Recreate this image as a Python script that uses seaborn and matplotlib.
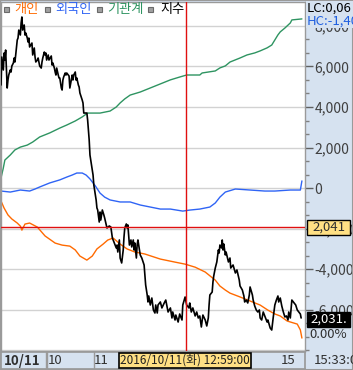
import matplotlib
matplotlib.use("Agg")
import matplotlib.pyplot as plt
import matplotlib.patches as mpatches
import numpy as np
import pandas as pd
import seaborn as sns

# 시간축: 09:00 이후 경과 분
# 기관계 (억원)
inst_min = [0, 3, 5, 12, 18, 25, 34, 41, 50, 63, 76, 85, 96, 105, 112, 128, 141, 149, 154, 160,
            167, 180, 193, 206, 219, 231, 240, 257, 260, 277, 283, 290, 296, 309, 318, 328, 335, 344, 350, 354,
            358, 361, 367, 374, 376, 389]
inst_val = [490, 990, 1380, 1630, 1880, 2020, 2120, 2270, 2520, 2720, 2960, 3110, 3310, 3510, 3700, 3700, 3800, 4000, 4200, 4400,
            4590, 4740, 4940, 5140, 5340, 5480, 5580, 5580, 5680, 5780, 5930, 6030, 6220, 6420, 6570, 6670, 6770, 6920, 7060, 7310,
            7560, 7710, 7900, 8150, 8300, 8350]

# 외국인
frgn_min = [0, 12, 25, 37, 44, 50, 63, 76, 85, 92, 98, 105, 110, 115, 122, 128, 134, 141, 154, 167,
            180, 193, 206, 219, 235, 244, 257, 270, 277, 283, 290, 303, 322, 341, 354, 374, 387, 389]
frgn_val = [-150, -200, -100, -150, -50, 50, 250, 400, 540, 640, 740, 740, 640, 450, 100, -250, -450, -590, -690, -690,
            -840, -940, -1040, -1040, -1140, -1090, -1040, -940, -740, -450, -200, -50, -100, -150, -150, -100, -100, 350]

# 개인
indv_min = [0, 4, 9, 14, 21, 25, 27, 31, 37, 47, 57, 70, 79, 89, 96, 102, 111, 118, 124, 132,
            138, 145, 154, 163, 173, 186, 206, 225, 238, 251, 264, 277, 283, 290, 296, 309, 322, 335, 345, 354,
            361, 370, 383, 387, 389]
indv_val = [-640, -990, -1330, -1530, -1730, -1880, -2080, -1780, -1730, -1930, -2370, -2720, -2820, -2870, -3060, -3360, -3560, -3360, -3010, -2770,
            -2570, -2470, -2770, -3010, -3160, -3260, -3510, -3660, -3760, -3910, -4150, -4550, -4840, -5040, -5190, -5380, -5580, -5780, -6030, -6220,
            -6320, -6570, -6720, -7010, -7410]

# 지수
idx_min = [0, 1, 3, 4, 5, 6, 8, 9, 10, 12, 13, 14, 16, 17, 18, 19, 21, 22, 23, 25,
           26, 27, 28, 30, 31, 32, 34, 35, 36, 37, 40, 41, 43, 44, 45, 47, 48, 50, 52, 53,
           54, 56, 57, 58, 59, 61, 62, 65, 66, 67, 69, 70, 71, 72, 74, 75, 76, 78, 79, 80,
           81, 83, 84, 85, 88, 89, 92, 93, 94, 96, 97, 98, 100, 101, 102, 105, 106, 107, 111, 112,
           114, 115, 116, 118, 119, 120, 122, 123, 124, 125, 127, 128, 129, 131, 133, 134, 137, 140, 142, 144,
           146, 149, 150, 151, 153, 154, 156, 158, 159, 160, 162, 163, 164, 166, 168, 169, 171, 172, 173, 175,
           176, 177, 180, 182, 185, 186, 187, 189, 190, 191, 193, 195, 197, 199, 200, 202, 203, 206, 208, 211,
           213, 216, 219, 221, 222, 225, 226, 229, 231, 234, 235, 238, 240, 243, 244, 246, 248, 251, 253, 255,
           257, 259, 261, 264, 266, 268, 269, 270, 273, 274, 275, 277, 279, 281, 282, 283, 285, 286, 287, 288,
           290, 291, 294, 296, 297, 300, 303, 305, 308, 309, 312, 314, 315, 317, 319, 321, 322, 325, 326, 328,
           330, 332, 334, 335, 337, 339, 341, 344, 345, 348, 350, 352, 354, 356, 358, 359, 361, 363, 365, 367,
           369, 371, 372, 374, 376, 379, 381, 383, 387, 388]
idx_val = [2056.44, 2059.48, 2058.07, 2059.91, 2059.15, 2060.24, 2056.11, 2056.98, 2057.52, 2058.07,
           2057.85, 2058.50, 2058.83, 2059.37, 2058.94, 2059.70, 2061.33, 2061.54, 2062.41, 2061.87,
           2063.17, 2063.83, 2062.41, 2062.96, 2061.87, 2062.09, 2061.54, 2061.11, 2061.54, 2060.57,
           2061.00, 2059.70, 2060.46, 2059.48, 2058.94, 2059.15, 2059.37, 2058.50, 2058.28, 2058.94,
           2059.37, 2060.02, 2059.70, 2059.91, 2059.15, 2059.70, 2059.15, 2059.59, 2058.61, 2058.83,
           2058.28, 2057.85, 2057.52, 2058.28, 2057.52, 2057.20, 2057.20, 2056.11, 2055.89, 2056.98,
           2057.31, 2057.74, 2057.52, 2057.74, 2057.41, 2056.11, 2057.52, 2056.98, 2057.52, 2057.85,
           2056.98, 2057.20, 2056.44, 2056.22, 2055.57, 2054.80, 2054.48, 2053.39, 2053.39, 2052.63,
           2050.46, 2048.83, 2048.28, 2047.20, 2046.65, 2045.57, 2044.48, 2043.93, 2043.07, 2042.85,
           2041.54, 2042.63, 2041.76, 2042.85, 2042.30, 2041.98, 2040.89, 2041.11, 2041.00, 2039.80,
           2039.37, 2038.72, 2039.04, 2038.28, 2039.59, 2037.63, 2037.09, 2038.50, 2039.91, 2040.89,
           2041.33, 2040.89, 2041.22, 2039.04, 2039.59, 2038.83, 2039.59, 2038.50, 2039.26, 2037.63,
           2039.04, 2039.59, 2037.96, 2037.63, 2036.87, 2035.78, 2034.70, 2033.61, 2032.85, 2033.50,
           2032.52, 2033.28, 2031.98, 2031.65, 2032.52, 2031.65, 2032.52, 2032.85, 2032.20, 2032.74,
           2033.06, 2031.76, 2032.20, 2031.11, 2031.76, 2030.89, 2031.43, 2030.67, 2031.54, 2030.89,
           2032.52, 2033.39, 2032.52, 2032.20, 2032.74, 2031.76, 2032.20, 2031.33, 2031.76, 2031.11,
           2031.33, 2030.13, 2031.43, 2030.89, 2030.24, 2031.11, 2032.52, 2033.61, 2033.93, 2035.02,
           2035.67, 2036.54, 2037.20, 2038.50, 2038.17, 2039.04, 2038.72, 2039.59, 2038.50, 2039.15,
           2037.96, 2038.28, 2037.20, 2037.63, 2036.54, 2036.87, 2036.00, 2036.33, 2035.24, 2034.59,
           2034.15, 2033.50, 2032.85, 2033.06, 2032.74, 2033.61, 2034.48, 2033.61, 2033.06, 2032.41,
           2031.98, 2031.76, 2031.98, 2031.11, 2030.89, 2031.76, 2031.33, 2030.67, 2030.89, 2030.02,
           2029.80, 2031.22, 2032.52, 2033.06, 2033.50, 2032.85, 2033.28, 2032.41, 2031.76, 2031.22,
           2031.33, 2030.89, 2031.76, 2031.11, 2033.06, 2032.74, 2032.52, 2031.98, 2031.54, 2031.11]

flow_ticks = [-6000, -4000, -2000, 0, 2000, 4000, 6000, 8000]
hour_marks = [60, 120, 180, 240, 300]
hour_labels = ["10", "11", "15"]
cursor_min = 239
cursor_idx = 2041
last_idx = "2,031."

sns.set_theme(style="white")
plt.rcParams["font.family"] = ["Noto Sans CJK KR", "DejaVu Sans"]

W, H = 353, 370
fig = plt.figure(figsize=(W / 100, H / 100), dpi=100)
panel = "#d6e2f0"
fig.patch.set_facecolor(panel)


def fx(x):
    return x / W


def fy(y):
    return 1 - y / H


# 메인 차트
ax = fig.add_axes([1 / W, 19 / H, 304 / W, 349 / H])
ax.set_facecolor("white")
ax.set_xlim(0, 393)
ax.set_ylim(-8049, 9185)
for v in flow_ticks + [-8000]:
    ax.axhline(v, color="#d2d2d2", lw=1.0, zorder=0)

sns.lineplot(x=inst_min, y=inst_val, ax=ax, color="#2e9461", lw=1.0)
sns.lineplot(x=frgn_min, y=frgn_val, ax=ax, color="#2f64f5", lw=1.0)
sns.lineplot(x=indv_min, y=indv_val, ax=ax, color="#ff6a00", lw=1.0)
ax.set_xticks([])
ax.set_xlabel("")
ax.set_ylabel("")
for s in ax.spines.values():
    s.set_color("#9a9a9a")
    s.set_linewidth(1)

ax2 = ax.twinx()
ax2.set_ylim(2027.52, 2065.46)
sns.lineplot(x=idx_min, y=idx_val, ax=ax2, color="black", lw=1.2)
ax2.axvline(cursor_min, color="#e01010", lw=1.0)
ax2.axhline(cursor_idx, color="#e01010", lw=1.0)
ax2.set_yticks([])
ax2.set_ylabel("")
for s in ax2.spines.values():
    s.set_visible(False)

# twinx 이후에 오른쪽 눈금 설정
ax.yaxis.tick_right()
ax.set_yticks(flow_ticks)
ax.set_yticklabels([f"{v:,}" for v in flow_ticks])
ax.set_yticks(np.arange(-8000, 9200, 2000 / 3), minor=True)
ax.tick_params(axis="y", which="major", direction="out", length=6, width=1,
               color="#606060", labelcolor="#404040", labelsize=10, pad=1,
               right=True, left=False, labelright=True, labelleft=False)
ax.tick_params(axis="y", which="minor", direction="out", length=3, width=1,
               color="#808080", right=True, left=False)

# 범례
legend_items = [("개인", "#ff6a00", 4, 14), ("외국인", "#2f64f5", 45, 55),
                ("기관계", "#2e9461", 97, 107), ("지수", "black", 148, 160)]
for name, col, sx, tx in legend_items:
    fig.patches.append(mpatches.Rectangle((fx(sx), fy(12)), 5 / W, 5 / H, transform=fig.transFigure,
                                          fc="#a0a0a0", ec="#6a6a6a", lw=0.8))
    fig.text(fx(tx), fy(9.5), name, color=col, fontsize=9.5, ha="left", va="center")

# 오른쪽 패널 텍스트
fig.text(fx(307), fy(8), "LC:0,06", color="black", fontsize=9.5, ha="left", va="center",
         bbox=dict(boxstyle="square,pad=0.05", fc=panel, ec="none"))
fig.text(fx(307), fy(21), "HC:-1,40", color="#1f5fe0", fontsize=9.5, ha="left", va="center",
         bbox=dict(boxstyle="square,pad=0.05", fc=panel, ec="none"))

fig.patches.append(mpatches.Rectangle((fx(307), fy(235)), 43 / W, 15 / H, transform=fig.transFigure,
                                      fc="#ffe084", ec="black", lw=1))
fig.text(fx(328.5), fy(227.5), f"{cursor_idx:,}", color="#303030", fontsize=9.5, ha="center", va="center")
fig.patches.append(mpatches.Rectangle((fx(307), fy(327)), 43 / W, 15 / H, transform=fig.transFigure,
                                      fc="black", ec="black", lw=1))
fig.text(fx(328.5), fy(319.5), last_idx, color="white", fontsize=9.5, ha="center", va="center")
fig.text(fx(309), fy(334), "0.00%", color="#303030", fontsize=9.5, ha="left", va="center")

# 하단 시간축 바
bax = fig.add_axes([1 / W, 1 / H, 304 / W, 17 / H], sharex=ax)
bax.set_facecolor(panel)
bax.set_xlim(0, 393)
bax.set_ylim(0, 1)
for m in hour_marks:
    bax.axvline(m, color="#9a9a9a", lw=1)
bax.set_xticks([])
bax.set_yticks([])
for s in bax.spines.values():
    s.set_color("#9a9a9a")
bax.axvline(45 * 393 / 304, color="#9a9a9a", lw=1)

fig.text(fx(4), fy(361), "10/11", color="#303030", fontsize=9.5, fontweight="bold", ha="left", va="center")
for lab, px in zip(hour_labels, [48, 94, 281]):
    fig.text(fx(px), fy(361), lab, color="#303030", fontsize=9.5, ha="left", va="center")
fig.text(fx(185), fy(360.5), "2016/10/11(화) 12:59:00", color="#202020", fontsize=8.5,
         ha="center", va="center",
         bbox=dict(boxstyle="square,pad=0.12", fc="#ffe084", ec="black", lw=1.2))
fig.text(fx(314), fy(361), "15:33:0", color="#303030", fontsize=9.5, ha="left", va="center")

fig.patches.append(mpatches.Rectangle((0, 0), 1, 1, transform=fig.transFigure,
                                      fill=False, ec="#9a9a9a", lw=1.5))

fig.savefig("out.png", dpi=100, facecolor=fig.get_facecolor())
